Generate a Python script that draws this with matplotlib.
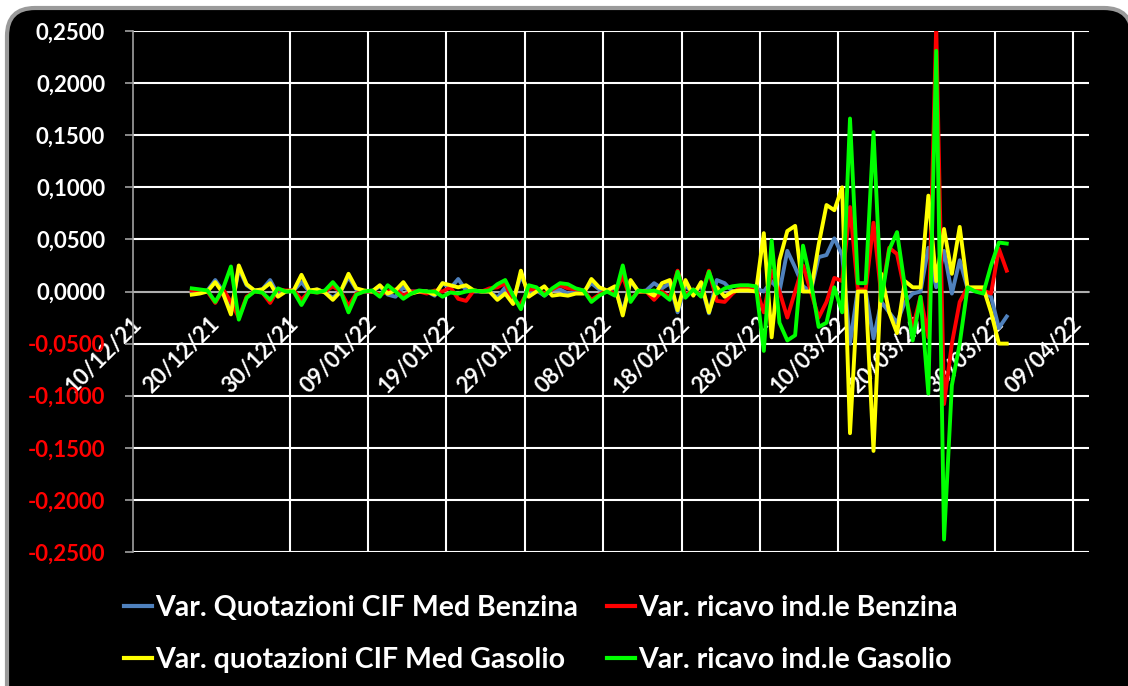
import matplotlib
matplotlib.use("Agg")
import matplotlib.pyplot as plt
from matplotlib.patches import FancyBboxPatch
from matplotlib.transforms import IdentityTransform, ScaledTranslation
from matplotlib.lines import Line2D
import pandas as pd

# daily variations, 17/12/21 .. 31/03/22
dates = pd.date_range("2021-12-17", "2022-03-31", freq="D")

benzina_quot = [
    0.000, 0.000, 0.001, 0.011, 0.000, -0.020, 0.022, 0.006, 0.001, 0.002,
    0.011, -0.003, 0.000, 0.001, 0.009, 0.000, 0.002, -0.001, -0.006, 0.000,
    0.014, 0.002, 0.000, 0.000, 0.005, -0.003, -0.005, 0.004, 0.000, 0.000,
    0.000, -0.004, 0.008, 0.003, 0.012, 0.001, 0.000, 0.000, 0.000, -0.006,
    0.004, -0.008, 0.015, 0.000, 0.001, -0.004, 0.002, 0.002, -0.002, 0.000,
    0.000, 0.008, 0.002, 0.000, 0.004, -0.020, 0.010, 0.000, 0.001, 0.008,
    0.003, 0.008, -0.020, 0.006, -0.002, 0.006, -0.021, 0.011, 0.008, 0.000,
    0.002, 0.003, 0.003, 0.000, 0.010, 0.000, 0.039, 0.023, 0.005, 0.000,
    0.033, 0.035, 0.051, 0.035, -0.050, 0.002, 0.000, -0.045, -0.010, -0.020,
    -0.030, -0.010, -0.002, 0.000, 0.042, 0.004, 0.039, -0.002, 0.030, 0.003,
    0.003, 0.000, -0.005, -0.035, -0.024,
]
benzina_ricavo = [
    0.001, 0.000, 0.000, -0.011, 0.002, -0.010, -0.025, -0.005, 0.000, -0.001,
    -0.011, 0.002, 0.001, 0.001, -0.008, 0.000, -0.001, 0.000, 0.005, 0.000,
    -0.014, -0.002, 0.000, 0.000, -0.003, 0.000, 0.002, -0.004, 0.000, 0.000,
    -0.002, 0.001, 0.000, 0.004, -0.007, -0.009, 0.001, 0.000, 0.003, 0.004,
    0.008, -0.010, -0.012, 0.002, 0.002, -0.002, 0.002, 0.006, 0.003, 0.002,
    0.001, -0.008, -0.003, 0.001, -0.002, 0.015, -0.008, 0.000, 0.000, -0.008,
    0.000, -0.006, 0.020, -0.004, 0.002, -0.004, 0.020, -0.009, -0.010, -0.002,
    0.004, 0.004, 0.003, -0.020, 0.020, 0.000, -0.025, 0.000, 0.025, 0.000,
    -0.025, -0.010, 0.013, 0.010, 0.081, 0.002, 0.002, 0.066, -0.005, 0.042,
    0.036, 0.000, -0.035, -0.005, -0.044, 0.255, -0.108, -0.050, -0.010, 0.004,
    0.002, 0.001, -0.002, 0.041, 0.020,
]
gasolio_quot = [
    -0.003, -0.002, 0.000, 0.009, -0.002, -0.022, 0.025, 0.007, 0.001, 0.002,
    0.008, -0.005, 0.000, 0.001, 0.016, 0.001, 0.002, -0.001, -0.008, 0.000,
    0.017, 0.003, 0.001, 0.000, 0.006, -0.002, 0.001, 0.009, -0.002, 0.000,
    0.000, -0.003, 0.008, 0.006, 0.004, 0.006, 0.001, 0.000, 0.000, -0.008,
    -0.002, -0.012, 0.020, -0.005, 0.000, 0.005, -0.004, -0.003, -0.004, -0.002,
    -0.002, 0.012, 0.004, 0.001, 0.005, -0.023, 0.011, 0.000, 0.000, -0.004,
    0.008, 0.011, -0.018, 0.011, -0.004, 0.009, -0.020, 0.004, -0.005, 0.000,
    0.001, 0.001, 0.000, 0.056, -0.044, 0.030, 0.058, 0.063, 0.000, 0.000,
    0.045, 0.083, 0.078, 0.100, -0.136, 0.000, 0.000, -0.153, 0.017, -0.020,
    -0.040, 0.010, 0.004, 0.004, 0.092, 0.010, 0.060, 0.017, 0.062, 0.004,
    0.004, 0.004, -0.020, -0.050, -0.050,
]
gasolio_ricavo = [
    0.003, 0.002, 0.001, -0.010, 0.003, 0.024, -0.027, -0.006, 0.000, -0.001,
    -0.008, 0.003, 0.000, 0.000, -0.013, 0.000, -0.001, 0.001, 0.009, 0.000,
    -0.020, -0.003, 0.000, 0.001, -0.005, 0.006, 0.000, -0.007, -0.002, 0.001,
    0.000, 0.000, -0.005, -0.001, -0.002, 0.000, 0.001, 0.000, 0.001, 0.007,
    0.011, -0.004, -0.017, 0.006, 0.004, -0.004, 0.003, 0.008, 0.007, 0.003,
    0.001, -0.010, -0.004, 0.000, -0.004, 0.025, -0.010, 0.001, 0.000, 0.001,
    -0.002, -0.008, 0.019, -0.006, 0.002, -0.005, 0.019, -0.002, 0.003, 0.005,
    0.006, 0.006, 0.005, -0.057, 0.049, -0.030, -0.047, -0.042, 0.044, 0.010,
    -0.034, -0.030, 0.004, -0.020, 0.166, 0.008, 0.008, 0.153, -0.009, 0.040,
    0.057, 0.005, -0.047, -0.005, -0.098, 0.231, -0.238, -0.090, -0.050, 0.004,
    0.000, -0.002, 0.025, 0.047, 0.046,
]

labels = ["Var. Quotazioni CIF Med Benzina", "Var. ricavo ind.le Benzina",
          "Var. quotazioni CIF Med Gasolio", "Var. ricavo ind.le Gasolio"]
colors = ["#4F81BD", "#FF0000", "#FFFF00", "#00FF00"]
yticks = [-0.25, -0.20, -0.15, -0.10, -0.05, 0.0, 0.05, 0.10, 0.15, 0.20, 0.25]
xticks = pd.date_range("2021-12-10", "2022-04-09", freq="10D")
# vertical gridlines that do not show in the original picture
no_grid = ["10/12/21", "20/12/21", "20/03/22"]

plt.rcParams["font.family"] = ["Lato", "DejaVu Sans"]
plt.rcParams["font.weight"] = "bold"

fig = plt.figure(figsize=(11.28, 6.86), dpi=100, facecolor="white")

# black rounded panel behind everything
panel = FancyBboxPatch((7, -60), 1125, 738, boxstyle="round,pad=0,rounding_size=28",
                       transform=IdentityTransform(), facecolor="black",
                       edgecolor="#9a9a9a", linewidth=3, zorder=-10)
fig.patches.append(panel)

ax = fig.add_axes([133 / 1128, 1 - 552 / 686, (1089 - 133) / 1128, (552 - 31) / 686])
ax.set_facecolor("black")

# Excel date axis puts each day in the middle of its slot
x = dates + pd.Timedelta(hours=12)
series = [benzina_quot, benzina_ricavo, gasolio_quot, gasolio_ricavo]
for vals, col in zip(series, colors):
    ax.plot(x, vals, color=col, lw=2.8, zorder=3, solid_joinstyle="round")

ax.set_ylim(-0.25, 0.25)
ax.set_xlim(pd.Timestamp("2021-12-10"), pd.Timestamp("2022-04-11"))

# grid first: it rebuilds the ticks, which would drop label settings
ax.yaxis.grid(True, color="white", lw=1.5)
ax.xaxis.grid(False)
ax.set_axisbelow(True)
for d in xticks:
    if d.strftime("%d/%m/%y") not in no_grid:
        ax.axvline(d, color="white", lw=1.5, zorder=0.5)

ax.tick_params(axis="y", direction="out", length=6, width=1.2, color="#a0a0a0",
               labelsize=16, pad=14)
ax.tick_params(axis="x", length=0, labelsize=16, pad=21, labelcolor="white",
               labelrotation=45)

ax.set_yticks(yticks)
ax.set_yticklabels([f"{v:.4f}".replace(".", ",") for v in yticks])
ax.set_xticks(xticks)
ax.set_xticklabels([d.strftime("%d/%m/%y") for d in xticks])

for side in ["top", "right"]:
    ax.spines[side].set_visible(False)
ax.spines["left"].set_color("#a0a0a0")
ax.spines["bottom"].set_color("#a0a0a0")
ax.spines["bottom"].set_position(("data", 0))
ax.spines["left"].set_linewidth(1.2)
ax.spines["bottom"].set_linewidth(1.2)

for lbl, v in zip(ax.get_yticklabels(), yticks):
    lbl.set_color("red" if v < 0 else "white")
for lbl in ax.get_xticklabels():
    lbl.set_rotation(45)
    lbl.set_ha("right")
    lbl.set_va("center")
    lbl.set_rotation_mode("anchor")
    lbl.set_color("white")
    lbl.set_transform(lbl.get_transform() + ScaledTranslation(0.05, 0, fig.dpi_scale_trans))
for t in ax.xaxis.get_major_ticks():
    t.gridline.set_visible(False)

# legend fills column by column, so order entries to get two rows
order = [0, 2, 1, 3]
handles = [Line2D([], [], color=colors[i], lw=3) for i in order]
leg = fig.legend(handles, [labels[i] for i in order], ncol=2, loc="upper left",
                 bbox_to_anchor=(124 / 1128, 1 - 595 / 686), frameon=False,
                 fontsize=20.5, handlelength=1.0, handletextpad=0.1,
                 columnspacing=1.0, labelspacing=0.9, borderpad=0, borderaxespad=0)
for t in leg.get_texts():
    t.set_color("white")

fig.savefig("out.png", dpi=100, facecolor="white")
